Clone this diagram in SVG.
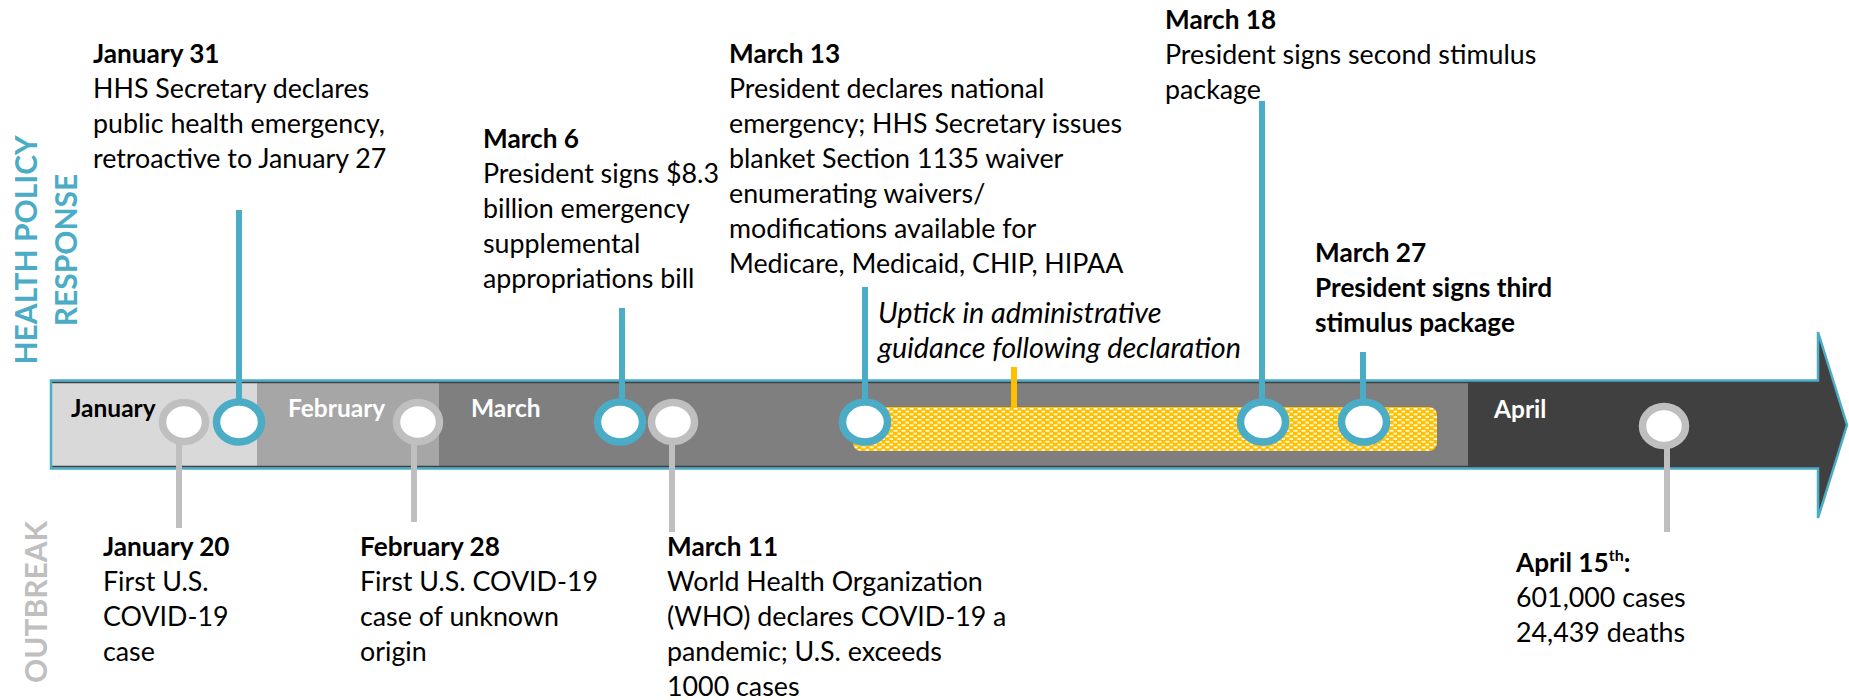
<svg xmlns="http://www.w3.org/2000/svg" width="1849" height="700" viewBox="0 0 1849 700">
<defs>
<pattern id="dash" width="8" height="5.5" patternUnits="userSpaceOnUse" x="853" y="407">
<rect width="8" height="5.5" fill="#FFC000"/>
<rect x="0.5" y="1" width="4" height="1.6" fill="#FFFFFF"/>
<rect x="4.5" y="3.75" width="4" height="1.6" fill="#FFFFFF"/>
</pattern>
<style>
text{font-family:Lato,"Liberation Sans",sans-serif;font-size:26.8px;fill:#000}
.b{font-weight:bold;font-size:26.2px}
.i{font-style:italic;font-size:28.8px}
.m{font-weight:bold;font-size:24.5px;fill:#fff}
.side{font-weight:bold;font-size:30px;text-anchor:middle}
.teal{stroke:#4BACC6;stroke-width:6;fill:none}
.grey{stroke:#BFBFBF;stroke-width:6;fill:none}
.ct{fill:#fff;stroke:#4BACC6;stroke-width:7.5}
.cg{fill:#fff;stroke:#BFBFBF;stroke-width:7.5}
</style>
</defs>
<rect width="1849" height="700" fill="#fff"/>

<g id="side-labels">
<text class="side" transform="translate(37,250) rotate(-90)" style="fill:#4BACC6">HEALTH POLICY</text>
<text class="side" transform="translate(77,250) rotate(-90)" style="fill:#4BACC6">RESPONSE</text>
<text class="side" transform="translate(47,602) rotate(-90)" style="fill:#BFBFBF">OUTBREAK</text>
</g>

<g id="timeline">
<path d="M51,380.5 H1818 V332 L1847,425 L1818,518 V468.5 H51 Z" fill="#404040"/>
<rect x="51" y="381.5" width="206" height="86" fill="#D9D9D9"/>
<rect x="257" y="381.5" width="182" height="86" fill="#A6A6A6"/>
<rect x="439" y="381.5" width="1029" height="86" fill="#7F7F7F"/>
<line x1="52" y1="382.5" x2="1818" y2="382.5" stroke="#404040" stroke-width="1.5"/>
<line x1="52" y1="466.5" x2="1818" y2="466.5" stroke="#404040" stroke-width="1.5"/>
<path d="M51,380.5 H1818 V332 L1847,425 L1818,518 V468.5 H51 Z" fill="none" stroke="#4BACC6" stroke-width="2.5"/>
<text class="m" x="71" y="417" style="fill:#000">January</text>
<text class="m" x="288" y="417">February</text>
<text class="m" x="471" y="417">March</text>
<text class="m" x="1494" y="418">April</text>
</g>

<g id="uptick">
<rect x="853" y="407" width="584" height="44" rx="8" fill="url(#dash)"/>
<line x1="1014" y1="367" x2="1014" y2="407" stroke="#FFC000" stroke-width="6"/>
<text class="i" x="878" y="323">Uptick in administrative</text>
<text class="i" x="878" y="358">guidance following declaration</text>
</g>

<g id="connectors">
<line class="teal" x1="239" y1="210" x2="239" y2="422"/>
<line class="teal" x1="622" y1="308" x2="622" y2="422"/>
<line class="teal" x1="865" y1="287" x2="865" y2="422"/>
<line class="teal" x1="1262" y1="101" x2="1262" y2="422"/>
<line class="teal" x1="1363" y1="352" x2="1363" y2="422"/>
<line class="grey" x1="179" y1="422" x2="179" y2="528"/>
<line class="grey" x1="414" y1="422" x2="414" y2="522"/>
<line class="grey" x1="672" y1="422" x2="672" y2="532"/>
<line class="grey" x1="1667" y1="426" x2="1667" y2="532"/>
</g>

<g id="jan20">
<ellipse class="cg" cx="184" cy="422" rx="21.5" ry="19.5"/>
<text class="b" x="103" y="556">January 20</text>
<text x="103" y="591">First U.S.</text>
<text x="103" y="626">COVID-19</text>
<text x="103" y="661">case</text>
</g>

<g id="jan31">
<ellipse class="ct" cx="239" cy="422" rx="22.5" ry="20"/>
<text class="b" x="93" y="63">January 31</text>
<text x="93" y="98">HHS Secretary declares</text>
<text x="93" y="133">public health emergency,</text>
<text x="93" y="168">retroactive to January 27</text>
</g>

<g id="feb28">
<ellipse class="cg" cx="418" cy="422" rx="21.5" ry="19.5"/>
<text class="b" x="360" y="556">February 28</text>
<text x="360" y="591">First U.S. COVID-19</text>
<text x="360" y="626">case of unknown</text>
<text x="360" y="661">origin</text>
</g>

<g id="mar6">
<ellipse class="ct" cx="620" cy="422" rx="22.5" ry="20"/>
<text class="b" x="483" y="148">March 6</text>
<text x="483" y="183">President signs $8.3</text>
<text x="483" y="218">billion emergency</text>
<text x="483" y="253">supplemental</text>
<text x="483" y="288">appropriations bill</text>
</g>

<g id="mar11">
<ellipse class="cg" cx="673" cy="422" rx="21.5" ry="19.5"/>
<text class="b" x="667" y="556">March 11</text>
<text x="667" y="591">World Health Organization</text>
<text x="667" y="626">(WHO) declares COVID-19 a</text>
<text x="667" y="661">pandemic; U.S. exceeds</text>
<text x="667" y="696">1000 cases</text>
</g>

<g id="mar13">
<ellipse class="ct" cx="865" cy="422" rx="22.5" ry="20"/>
<text class="b" x="729" y="63">March 13</text>
<text x="729" y="98">President declares national</text>
<text x="729" y="133">emergency; HHS Secretary issues</text>
<text x="729" y="168">blanket Section 1135 waiver</text>
<text x="729" y="203">enumerating waivers/</text>
<text x="729" y="238">modifications available for</text>
<text x="729" y="273">Medicare, Medicaid, CHIP, HIPAA</text>
</g>

<g id="mar18">
<ellipse class="ct" cx="1263" cy="422" rx="22.5" ry="20"/>
<text class="b" x="1165" y="29">March 18</text>
<text x="1165" y="64">President signs second stimulus</text>
<text x="1165" y="99">package</text>
</g>

<g id="mar27">
<ellipse class="ct" cx="1364" cy="422" rx="22.5" ry="20"/>
<text class="b" x="1315" y="262">March 27</text>
<text class="b" x="1315" y="297">President signs third</text>
<text class="b" x="1315" y="332">stimulus package</text>
</g>

<g id="apr15">
<ellipse class="cg" cx="1664" cy="426" rx="21.5" ry="19.5"/>
<text class="b" x="1516" y="572">April 15<tspan font-size="16" dy="-11">th</tspan><tspan dy="11">:</tspan></text>
<text x="1516" y="607">601,000 cases</text>
<text x="1516" y="642">24,439 deaths</text>
</g>
</svg>
